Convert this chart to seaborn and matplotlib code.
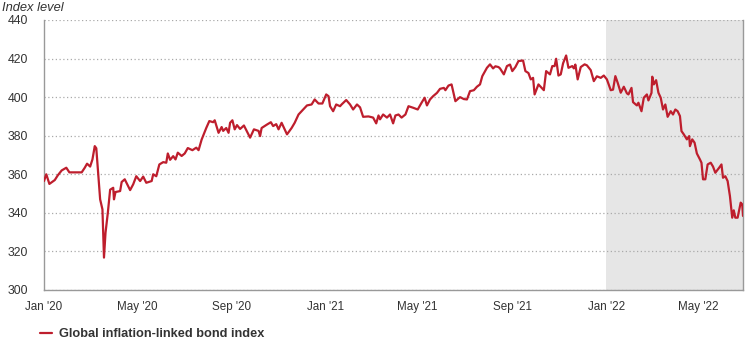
import numpy as np
import pandas as pd
import matplotlib
matplotlib.use("Agg")
import matplotlib.pyplot as plt
import matplotlib.dates as mdates
import seaborn as sns

# days since 1 Jan 2020
days = [0, 3, 7, 14, 18, 23, 29, 33, 40, 49, 53, 56, 60, 63, 66, 68, 73, 76, 78, 80,
        83, 86, 90, 91, 93, 99, 101, 105, 112, 116, 120, 125, 129, 133, 140, 142, 146, 150, 155, 159,
        161, 164, 168, 171, 174, 179, 183, 187, 193, 198, 201, 205, 211, 215, 220, 222, 227, 231, 233, 237,
        240, 242, 245, 248, 251, 255, 260, 268, 273, 279, 281, 283, 290, 295, 298, 302, 305, 309, 316, 322,
        326, 331, 337, 342, 348, 352, 357, 362, 367, 370, 372, 376, 380, 385, 387, 393, 398, 402, 407, 411,
        415, 422, 428, 432, 435, 437, 441, 446, 450, 454, 457, 461, 465, 470, 474, 480, 486, 491, 495, 498,
        502, 506, 511, 515, 520, 522, 526, 530, 535, 541, 546, 550, 554, 559, 563, 567, 570, 576, 580, 584,
        587, 591, 593, 598, 602, 606, 609, 613, 617, 623, 626, 630, 633, 636, 638, 643, 650, 653, 658, 661,
        664, 666, 669, 672, 675, 679, 682, 687, 689, 691, 694, 698, 703, 706, 711, 715, 719, 724, 728, 732,
        737, 740, 743, 746, 750, 754, 758, 760, 764, 766, 771, 773, 777, 780, 784, 786, 790, 791, 793, 796,
        799, 802, 805, 808, 811, 815, 818, 821, 824, 827, 829, 832, 836, 839, 840, 843, 846, 849, 853, 855,
        857, 860, 863, 867, 870, 873, 878, 881, 883, 886, 889, 892, 895, 897, 899, 902, 906, 908, 909]

index_level = [356.5, 360, 355, 357, 359.5, 362, 363.4, 361, 361, 361, 363.4, 365.5, 364, 367.7, 374.6, 373.5, 347, 341.8, 316.8, 329.7,
               340, 352, 353, 347, 350.8, 351.3, 356, 357.4, 351.8, 354.8, 359, 356.5, 358.8, 355.6, 356.5, 360, 359, 365.1, 366.3, 366,
               370.8, 367.5, 369.4, 367.7, 371.2, 369.5, 370.8, 373.6, 372.5, 373.8, 372.5, 378, 384, 387.6, 387, 388, 381.5, 384.5, 382.5, 384,
               381.5, 386.7, 388, 383.3, 385.5, 383.5, 385.3, 379, 383.3, 382.5, 379.8, 384, 385.8, 387, 385, 386, 383.3, 386.7, 380.7, 384,
               386.7, 391, 393.6, 395.7, 396.2, 398.8, 396.7, 396.7, 401.4, 400.5, 395.3, 392.7, 396.2, 395.3, 396.2, 398.5, 396.2, 393.6, 396.2, 394.7,
               389.8, 390, 389.4, 386.4, 390.5, 388.5, 391, 389.4, 391, 386.4, 390.5, 391, 389.4, 391, 395.3, 394.5, 393.6, 397.1, 399.7, 395.7,
               398.8, 400.5, 402.2, 404.3, 404.8, 403.6, 406, 406.6, 397.9, 400, 399, 398.8, 403.1, 403.6, 405.4, 406.6, 410.9, 415.2, 417, 414.9,
               416, 415.6, 414.9, 411.8, 416.1, 416.9, 413.5, 415.6, 418.7, 419, 413.5, 412.5, 409.2, 410, 401.4, 406.6, 403.6, 413.5, 411.8, 416.1,
               416.1, 419.9, 411.2, 411.8, 417.5, 421.6, 415.2, 416.1, 414.9, 416.9, 409.2, 415.6, 417, 416.5, 414, 408.3, 410.8, 410, 411.2, 409.2,
               403.6, 403.9, 410.9, 407.5, 402.3, 405.4, 402, 401.4, 404.8, 397.4, 395.7, 397.1, 392.7, 399.7, 401.4, 398.3, 402.2, 410.6, 406.6, 408.8,
               402.3, 399.7, 393.6, 396.2, 389.8, 392.7, 391, 393.6, 392.7, 390.2, 382.4, 380.7, 378.1, 379.8, 374.6, 378.1, 376.4, 370.8, 367.7, 366,
               357.4, 357.4, 365.1, 366, 364, 360.8, 363.4, 365.1, 358.2, 359, 356.5, 348.7, 337.5, 341.3, 337.5, 337.5, 345.3, 344.4, 338.4]

series_name = "Global inflation-linked bond index"
y_ticks = [300, 320, 340, 360, 380, 400, 420, 440]
shade_start = "2022-01-01"

dates = pd.Timestamp("2020-01-01") + pd.to_timedelta(days, unit="D")
df = pd.DataFrame({"date": dates, "value": index_level, "series": series_name})

sns.set_style("white")
plt.rcParams["font.family"] = ["Liberation Sans", "DejaVu Sans"]

line_color = "#be1e2d"
text_color = "#333333"

fig = plt.figure(figsize=(7.52, 3.64), dpi=100)
ax = fig.add_axes([44 / 752, 74 / 364, 699 / 752, 270 / 364])

ax.axvspan(pd.Timestamp(shade_start), dates[-1], color="#e6e6e6", lw=0, zorder=0)
sns.lineplot(data=df, x="date", y="value", hue="series", palette=[line_color],
             linewidth=1.6, ax=ax, legend=True, zorder=3)

ax.set_xlim(dates[0], dates[-1])
ax.set_ylim(300, 440)
ax.set_yticks(y_ticks)
ax.yaxis.grid(True, linestyle=(0, (1, 2)), color="#aaaaaa", linewidth=0.9)
ax.set_axisbelow(True)

ax.xaxis.set_major_locator(mdates.MonthLocator(bymonth=[1, 5, 9]))
ax.xaxis.set_major_formatter(mdates.DateFormatter("%b '%y"))
ax.tick_params(axis="x", length=7, width=0.8, color="#c8d4e6", labelsize=8.4,
               labelcolor=text_color, pad=1)
ax.tick_params(axis="y", length=0, labelsize=8.8, labelcolor=text_color, pad=11.5)
for lbl in ax.get_yticklabels():
    lbl.set_horizontalalignment("right")

for side in ["left", "bottom", "right"]:
    ax.spines[side].set_color("#999999")
    ax.spines[side].set_linewidth(1)
ax.spines["top"].set_visible(False)

ax.set_xlabel("")
ax.set_ylabel("")
fig.text(2 / 752, 1 - 8 / 364, "Index level", style="italic", fontsize=9.3,
         color=text_color, va="center", ha="left")

handles, labels = ax.get_legend_handles_labels()
ax.get_legend().remove()
leg = fig.legend(handles, labels, loc="center left", bbox_to_anchor=(28 / 752, 1 - 334 / 364),
                 frameon=False, handlelength=1.0, handletextpad=0.55,
                 prop={"weight": "bold", "size": 9.2})
for t in leg.get_texts():
    t.set_color(text_color)

fig.savefig("out.png", dpi=100)
